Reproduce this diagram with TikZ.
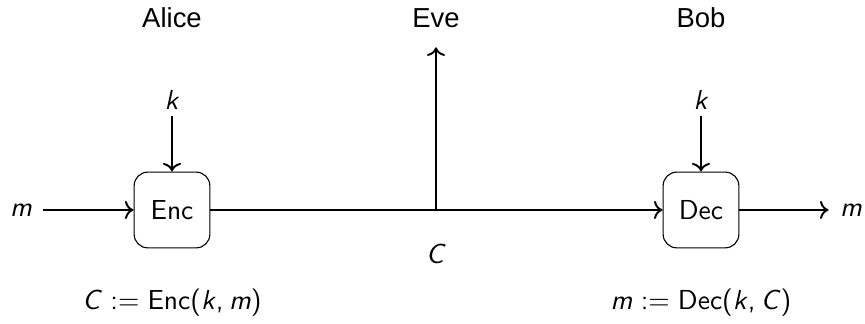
\documentclass[tikz,border=0pt]{standalone}
\usepackage{fontspec}
\newfontfamily\namefont{Liberation Sans}
\usepackage{tikz}
\usetikzlibrary{arrows.meta,positioning}
\newcommand{\var}[1]{\textsl{#1}}
\newcommand{\defeq}{\hspace{0.3em}:=\hspace{0.3em}}
\newcommand{\sep}{,\hspace{0.2em}}

\begin{document}
\begin{tikzpicture}[
  x=0.0128cm,y=0.0128cm,
  box/.style={draw, rounded corners=5pt, minimum width=0.97cm, minimum height=0.97cm, inner sep=0pt, font=\sffamily},
  lbl/.style={font=\sffamily, inner sep=2pt},
  who/.style={font=\namefont, inner sep=0pt},
  arr/.style={->, line width=0.7pt}
]
\useasboundingbox (0,0) rectangle (865,324);
\node[box] (enc) at (172,114) {Enc};
\node[box] (dec) at (701,114) {Dec};
\node[lbl, inner sep=4pt] (min) at (21,114) {\var{m}};
\node[lbl, inner sep=4pt] (mout) at (851,114) {\var{m}};
\node[lbl] (ka) at (172,224) {\var{k}};
\node[lbl] (kb) at (701,224) {\var{k}};
\node[who] (alice) at (172,306) {Alice};
\node[who, inner sep=7pt] (eve) at (436,306) {Eve};
\node[who] (bob) at (701,306) {Bob};
\node[lbl] (c) at (436,70) {\var{C}};
\node[lbl] (encdef) at (172,21) {\var{C}\defeq Enc(\var{k}\sep\var{m})};
\node[lbl] (decdef) at (701,21) {\var{m}\defeq Dec(\var{k}\sep\var{C})};
\coordinate (tap) at (436,114);
\draw[arr] (min) -- (enc);
\draw[arr] (enc) -- (dec);
\draw[arr] (dec) -- (mout);
\draw[arr] (tap) -- (eve);
\foreach \a/\b in {ka/enc,kb/dec}{\draw[arr] (\a) -- (\b);}
\end{tikzpicture}
\end{document}
